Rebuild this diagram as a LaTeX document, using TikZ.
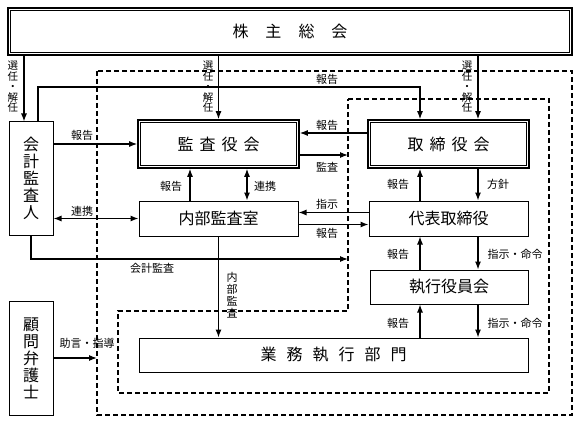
\documentclass[tikz,border=0pt]{standalone}
\usepackage{fontspec}
\setmainfont{Noto Sans CJK JP}
\usetikzlibrary{arrows.meta}
\pgfdeclarelayer{bg}
\pgfsetlayers{bg,main}
\tikzset{
    every node/.style={inner sep=0mm},
    box/.style={draw, line width=1pt, fill=white, align=center, font=\fontsize{16}{17}\selectfont},
    dbox/.style={box, fill=none, line width=1.7pt,
        append after command={\pgfextra{\draw[line width=0.7pt]
            ([shift={(3.5pt,-3.5pt)}]\tikzlastnode.north west) rectangle
            ([shift={(-3.5pt,3.5pt)}]\tikzlastnode.south east);}}},
    lbl/.style={align=center, font=\fontsize{11}{12}\selectfont},
    vlbl/.style={align=center, font=\fontsize{10.5}{10.5}\selectfont},
    arr/.style={line width=1.1pt, -{Latex[length=8pt,width=6pt]}},
    darr/.style={line width=1.1pt, {Latex[length=8pt,width=6pt]}-{Latex[length=8pt,width=6pt]}},
    zone/.style={line width=1.2pt, dash pattern=on 5pt off 3pt}
}
\begin{document}
\begin{tikzpicture}[x=1pt, y=-1pt]
        \useasboundingbox (0,0) rectangle (580,422);
        \node (v0) [dbox, minimum width=564pt, minimum height=47pt] at (290,31.5) {株\hspace{17pt}主\hspace{17pt}総\hspace{17pt}会};
        \node (v1) [box, minimum width=44pt, minimum height=113pt] at (31,178.5) {会\\計\\監\\査\\人};
        \node (v2) [dbox, minimum width=161pt, minimum height=48pt] at (218.5,144) {監\hspace{6pt}査\hspace{6pt}役\hspace{6pt}会};
        \node (v3) [dbox, minimum width=161pt, minimum height=48pt] at (448.5,144) {取\hspace{6pt}締\hspace{6pt}役\hspace{6pt}会};
        \node (v4) [box, minimum width=159pt, minimum height=35pt] at (218.5,218.5) {内部監査室};
        \node (v5) [box, minimum width=159pt, minimum height=35pt] at (448.5,218.5) {代表取締役};
        \node (v6) [box, minimum width=158pt, minimum height=34pt] at (449,287) {執行役員会};
        \node (v7) [box, minimum width=389pt, minimum height=34pt] at (333.5,355) {業\hspace{10pt}務\hspace{10pt}執\hspace{10pt}行\hspace{10pt}部\hspace{10pt}門};
        \node (v8) [box, minimum width=44pt, minimum height=114pt] at (31,358) {顧\\問\\弁\\護\\士};
        % columns and corners
        \coordinate (ca) at (24,0);
        \coordinate (cb) at (38,0);
        \coordinate (cl) at (420,0);
        \coordinate (cr) at (478,0);
        \coordinate (ct) at (0,87);
        \coordinate (cm) at (0,259);
        \coordinate (d1) at (348,99);
        \coordinate (d2) at (549,393);
        \coordinate (d3) at (118,311);
        \coordinate (o1) at (97,71);
        \coordinate (o2) at (572,415);
        \coordinate (m1) at ([yshift=-11pt]v2.east);
        \draw[zone] (o1) rectangle (o2);
        \draw[zone] (d1) -- (d1 -| d2) -- (d2) -- (d2 -| d3) -- (d3) -- (d3 -| d1) -- cycle;
        \node (l1) [vlbl] at (13,87) {選\\任\\・\\解\\任};
        \node (l2) [vlbl] at (208,87) {選\\任\\・\\解\\任};
        \node (l3) [vlbl] at (467,87) {選\\任\\・\\解\\任};
        \node (l4) [lbl] at (327,79) {報告};
        \node (l5) [lbl] at (82,135) {報告};
        \node (l6) [lbl] at (327,125) {報告};
        \node (l7) [lbl] at (327,167) {監査};
        \node (l8) [lbl] at (171,186) {報告};
        \node (l9) [lbl] at (265,186) {連携};
        \node (l10) [lbl] at (82,211) {連携};
        \node (l11) [lbl] at (327,204) {指示};
        \node (l12) [lbl] at (327,233) {報告};
        \node (l13) [lbl] at (398,184) {報告};
        \node (l14) [lbl] at (498,184) {方針};
        \node (l15) [lbl] at (398,254) {報告};
        \node (l16) [lbl] at (515,254) {指示・命令};
        \node (l17) [lbl] at (152,268) {会計監査};
        \node (l18) [lbl] at (232,295) {内\\部\\監\\査};
        \node (l19) [lbl] at (398,323) {報告};
        \node (l20) [lbl] at (515,323) {指示・命令};
        \node (l21) [lbl] at (87,343) {助言・指導};
        \begin{pgfonlayer}{bg}
                \draw[arr] (v0.south -| ca) -- (v1.north -| ca);
                \draw[arr] (v0.south -| v2.north) -- (v2.north);
                \draw[arr] (v0.south -| cr) -- (v3.north -| cr);
                \draw[arr] (v1.north -| cb) -- (cb |- ct) -- (cl |- ct) -- (v3.north -| cl);
                \draw[arr] (v1.east |- v2.west) -- (v2.west);
                \draw[arr] ([yshift=11pt]v3.west) -- ([yshift=11pt]v2.east);
                \draw[arr] (m1) -- (m1 -| d1);
                \draw[arr] ([xshift=-28.5pt]v4.north) -- ([xshift=-28.5pt]v2.south);
                \draw[darr] ([xshift=28.5pt]v2.south) -- ([xshift=28.5pt]v4.north);
                \draw[darr] (v4.west -| v1.east) -- (v4.west);
                \draw[arr] ([yshift=6pt]v5.west) -- ([yshift=6pt]v4.east);
                \draw[arr] ([yshift=-6pt]v4.east) -- ([yshift=-6pt]v5.west);
                \draw[arr] (v5.north -| cl) -- (v3.south -| cl);
                \draw[arr] (v3.south -| cr) -- (v5.north -| cr);
                \draw[arr] (v6.north -| cl) -- (v5.south -| cl);
                \draw[arr] (v5.south -| cr) -- (v6.north -| cr);
                \draw[arr] (v7.north -| cl) -- (v6.south -| cl);
                \draw[arr] (v6.south -| cr) -- (v7.north -| cr);
                \draw[arr] (v4.south) -- (v4.south |- v7.north);
                \draw[arr] (v1.south) -- (v1.south |- cm) -- (d1 |- cm);
                \draw[arr] (v8.east) -- (v8.east -| o1);
        \end{pgfonlayer}
\end{tikzpicture}
\end{document}
